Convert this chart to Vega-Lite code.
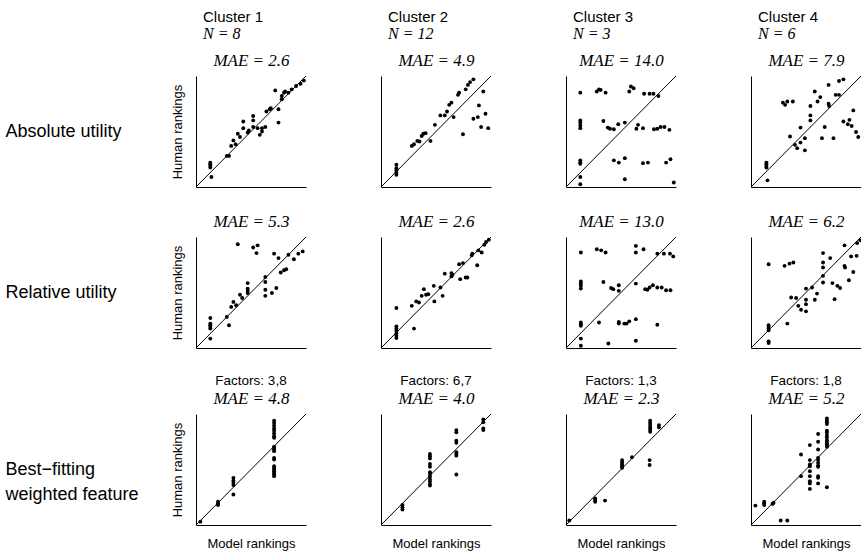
{
"$schema": "https://vega.github.io/schema/vega-lite/v6.json",
"padding": {"left": 5, "top": 10, "right": 2, "bottom": 2},
"background": "white",
"config": {
  "font": "Liberation Sans",
  "view": {"stroke": null},
  "axis": {"labels": false, "ticks": false, "grid": false, "domainColor": "black", "domainWidth": 1, "titleFont": "Liberation Sans", "titleFontWeight": "normal", "titleColor": "black", "titleFontSize": 13},
  "axisTop": {"domain": false, "titleFont": "Liberation Serif", "titleFontStyle": "italic", "titleFontSize": 17, "titlePadding": 7},
  "title": {"font": "Liberation Sans", "fontWeight": "normal", "fontSize": 15, "color": "black", "subtitleFont": "Liberation Serif", "subtitleFontStyle": "italic", "subtitleFontSize": 16, "subtitleColor": "black", "subtitlePadding": 1},
  "circle": {"size": 15, "color": "black", "opacity": 1},
  "rule": {"color": "black", "strokeWidth": 1}
},
"datasets": {"pts": [
{"p":"A1","model":13,"human":22},{"p":"A1","model":13,"human":20.5},{"p":"A1","model":13,"human":19},{"p":"A1","model":13,"human":17.5},{"p":"A1","model":14,"human":9},{"p":"A1","model":28,"human":28},{"p":"A1","model":30,"human":28},{"p":"A1","model":32,"human":37},{"p":"A1","model":34,"human":42},{"p":"A1","model":36,"human":38.5},{"p":"A1","model":38,"human":48},{"p":"A1","model":40,"human":45},{"p":"A1","model":43,"human":53},{"p":"A1","model":43,"human":59},{"p":"A1","model":47,"human":49},{"p":"A1","model":48,"human":51},{"p":"A1","model":52,"human":64},{"p":"A1","model":52,"human":60},{"p":"A1","model":52,"human":54},{"p":"A1","model":56,"human":53},{"p":"A1","model":58,"human":47},{"p":"A1","model":60,"human":50},{"p":"A1","model":60,"human":53},{"p":"A1","model":63,"human":54},{"p":"A1","model":64,"human":68},{"p":"A1","model":67,"human":70},{"p":"A1","model":68,"human":71},{"p":"A1","model":72,"human":87},{"p":"A1","model":75,"human":58},{"p":"A1","model":75,"human":70},{"p":"A1","model":78,"human":79},{"p":"A1","model":78,"human":82},{"p":"A1","model":80,"human":85},{"p":"A1","model":81,"human":86},{"p":"A1","model":84,"human":85},{"p":"A1","model":87,"human":88},{"p":"A1","model":91,"human":91},{"p":"A1","model":95,"human":93},{"p":"A1","model":98,"human":96},
{"p":"A2","model":14,"human":20},{"p":"A2","model":14,"human":17},{"p":"A2","model":14,"human":15},{"p":"A2","model":14,"human":13},{"p":"A2","model":14,"human":11},{"p":"A2","model":28,"human":37},{"p":"A2","model":30,"human":38.5},{"p":"A2","model":33,"human":41.5},{"p":"A2","model":35,"human":41},{"p":"A2","model":37,"human":46},{"p":"A2","model":38.5,"human":48},{"p":"A2","model":40.5,"human":48.5},{"p":"A2","model":45,"human":41.5},{"p":"A2","model":49,"human":56},{"p":"A2","model":54,"human":64.5},{"p":"A2","model":58,"human":64.5},{"p":"A2","model":60,"human":68},{"p":"A2","model":62,"human":74},{"p":"A2","model":64,"human":76},{"p":"A2","model":66,"human":63},{"p":"A2","model":70,"human":83},{"p":"A2","model":71,"human":85},{"p":"A2","model":74.5,"human":47.5},{"p":"A2","model":77,"human":88},{"p":"A2","model":79,"human":92},{"p":"A2","model":81,"human":94.5},{"p":"A2","model":84,"human":97},{"p":"A2","model":89,"human":73.5},{"p":"A2","model":93,"human":86},{"p":"A2","model":84,"human":61.5},{"p":"A2","model":88,"human":63},{"p":"A2","model":91,"human":54},{"p":"A2","model":95,"human":66},{"p":"A2","model":97.5,"human":53},
{"p":"A3","model":13,"human":85},{"p":"A3","model":13,"human":60},{"p":"A3","model":13,"human":58},{"p":"A3","model":13,"human":55.5},{"p":"A3","model":13,"human":53},{"p":"A3","model":13,"human":24},{"p":"A3","model":13,"human":22},{"p":"A3","model":13,"human":21},{"p":"A3","model":13,"human":9},{"p":"A3","model":13,"human":2.5},{"p":"A3","model":28,"human":86},{"p":"A3","model":30,"human":88},{"p":"A3","model":31.5,"human":87.5},{"p":"A3","model":36,"human":85},{"p":"A3","model":57.5,"human":86},{"p":"A3","model":59,"human":90.5},{"p":"A3","model":61.5,"human":89},{"p":"A3","model":71,"human":84},{"p":"A3","model":76,"human":84},{"p":"A3","model":79.5,"human":84},{"p":"A3","model":84,"human":82},{"p":"A3","model":34,"human":59.5},{"p":"A3","model":38,"human":53.5},{"p":"A3","model":40,"human":52.5},{"p":"A3","model":43.5,"human":52},{"p":"A3","model":47.5,"human":56.5},{"p":"A3","model":53.5,"human":58},{"p":"A3","model":64,"human":52.5},{"p":"A3","model":65.5,"human":56},{"p":"A3","model":70,"human":53},{"p":"A3","model":80,"human":52},{"p":"A3","model":83,"human":52.5},{"p":"A3","model":86,"human":54},{"p":"A3","model":89.5,"human":54},{"p":"A3","model":94,"human":51.5},{"p":"A3","model":43.5,"human":24},{"p":"A3","model":48,"human":22},{"p":"A3","model":53.5,"human":26},{"p":"A3","model":70,"human":21.5},{"p":"A3","model":74.5,"human":22},{"p":"A3","model":91,"human":22},{"p":"A3","model":95,"human":25},{"p":"A3","model":53.5,"human":7},{"p":"A3","model":98,"human":4},
{"p":"A4","model":14,"human":22},{"p":"A4","model":14,"human":20.5},{"p":"A4","model":14,"human":19},{"p":"A4","model":14,"human":17.5},{"p":"A4","model":15,"human":6},{"p":"A4","model":29,"human":76},{"p":"A4","model":31,"human":74},{"p":"A4","model":33,"human":77},{"p":"A4","model":38,"human":77},{"p":"A4","model":35.5,"human":45.5},{"p":"A4","model":40,"human":38},{"p":"A4","model":42,"human":35},{"p":"A4","model":45,"human":40},{"p":"A4","model":45,"human":53.5},{"p":"A4","model":49,"human":44},{"p":"A4","model":49,"human":33},{"p":"A4","model":54,"human":73},{"p":"A4","model":54,"human":64.5},{"p":"A4","model":54,"human":60},{"p":"A4","model":58,"human":86},{"p":"A4","model":60.5,"human":77},{"p":"A4","model":63,"human":81},{"p":"A4","model":67,"human":54},{"p":"A4","model":64.5,"human":44},{"p":"A4","model":70.5,"human":92},{"p":"A4","model":70.5,"human":75},{"p":"A4","model":71,"human":73},{"p":"A4","model":75,"human":44},{"p":"A4","model":77,"human":83},{"p":"A4","model":80,"human":83},{"p":"A4","model":80,"human":95.5},{"p":"A4","model":84,"human":97},{"p":"A4","model":93,"human":69},{"p":"A4","model":89.5,"human":60.5},{"p":"A4","model":84,"human":59},{"p":"A4","model":88,"human":56.5},{"p":"A4","model":91.5,"human":55},{"p":"A4","model":95.5,"human":49.5},{"p":"A4","model":97.5,"human":45},
{"p":"R1","model":13,"human":27},{"p":"R1","model":13,"human":22},{"p":"R1","model":13,"human":20.5},{"p":"R1","model":13,"human":19},{"p":"R1","model":13,"human":17.5},{"p":"R1","model":13,"human":8.5},{"p":"R1","model":28,"human":28},{"p":"R1","model":30,"human":20.5},{"p":"R1","model":32,"human":37},{"p":"R1","model":34,"human":41.5},{"p":"R1","model":36.5,"human":38.5},{"p":"R1","model":40,"human":48},{"p":"R1","model":42,"human":45},{"p":"R1","model":47,"human":58.5},{"p":"R1","model":47,"human":53.5},{"p":"R1","model":47,"human":51.5},{"p":"R1","model":47,"human":49.5},{"p":"R1","model":38,"human":93.5},{"p":"R1","model":52,"human":90.5},{"p":"R1","model":55,"human":85.5},{"p":"R1","model":56,"human":92.5},{"p":"R1","model":63,"human":64},{"p":"R1","model":63,"human":59.5},{"p":"R1","model":63,"human":52.5},{"p":"R1","model":63,"human":47},{"p":"R1","model":69,"human":49.5},{"p":"R1","model":73,"human":54},{"p":"R1","model":71,"human":85},{"p":"R1","model":75,"human":81},{"p":"R1","model":77,"human":68},{"p":"R1","model":80,"human":70},{"p":"R1","model":82,"human":71},{"p":"R1","model":84,"human":84},{"p":"R1","model":89,"human":80},{"p":"R1","model":93,"human":85},{"p":"R1","model":97,"human":87},
{"p":"R2","model":14,"human":36},{"p":"R2","model":14,"human":19.5},{"p":"R2","model":14,"human":17.5},{"p":"R2","model":14,"human":15.5},{"p":"R2","model":14,"human":13},{"p":"R2","model":14,"human":11},{"p":"R2","model":14,"human":9},{"p":"R2","model":30,"human":17.5},{"p":"R2","model":28,"human":38},{"p":"R2","model":32,"human":42},{"p":"R2","model":34.5,"human":41},{"p":"R2","model":37,"human":47},{"p":"R2","model":39,"human":53},{"p":"R2","model":41,"human":48},{"p":"R2","model":43,"human":48.5},{"p":"R2","model":48,"human":56},{"p":"R2","model":48.5,"human":42},{"p":"R2","model":54,"human":54.5},{"p":"R2","model":56,"human":47},{"p":"R2","model":58,"human":67},{"p":"R2","model":64,"human":64.5},{"p":"R2","model":64,"human":67.5},{"p":"R2","model":65,"human":66},{"p":"R2","model":71,"human":75.5},{"p":"R2","model":72,"human":62},{"p":"R2","model":74.5,"human":76.5},{"p":"R2","model":77,"human":63.5},{"p":"R2","model":78.5,"human":63.5},{"p":"R2","model":82.5,"human":83.5},{"p":"R2","model":83,"human":85},{"p":"R2","model":87.5,"human":74.5},{"p":"R2","model":88.5,"human":88},{"p":"R2","model":91.5,"human":86},{"p":"R2","model":94,"human":93},{"p":"R2","model":95.5,"human":95.5},{"p":"R2","model":98,"human":97.5},
{"p":"R3","model":13.5,"human":86},{"p":"R3","model":13.5,"human":60},{"p":"R3","model":13.5,"human":58},{"p":"R3","model":13.5,"human":56},{"p":"R3","model":13.5,"human":53.5},{"p":"R3","model":13.5,"human":23},{"p":"R3","model":13.5,"human":21.5},{"p":"R3","model":13.5,"human":20},{"p":"R3","model":13.5,"human":8.5},{"p":"R3","model":13.5,"human":2},{"p":"R3","model":28,"human":89},{"p":"R3","model":32,"human":88},{"p":"R3","model":36,"human":86},{"p":"R3","model":63.5,"human":92},{"p":"R3","model":63.5,"human":86},{"p":"R3","model":70.5,"human":89},{"p":"R3","model":83,"human":85},{"p":"R3","model":89,"human":85},{"p":"R3","model":94.5,"human":85},{"p":"R3","model":97.5,"human":82.5},{"p":"R3","model":34,"human":59.5},{"p":"R3","model":41,"human":54},{"p":"R3","model":43,"human":53},{"p":"R3","model":48,"human":56.5},{"p":"R3","model":48,"human":51.5},{"p":"R3","model":63.5,"human":58},{"p":"R3","model":72,"human":53},{"p":"R3","model":74,"human":52.5},{"p":"R3","model":76,"human":54.5},{"p":"R3","model":79,"human":56.5},{"p":"R3","model":83,"human":54.5},{"p":"R3","model":87,"human":54.5},{"p":"R3","model":91,"human":52},{"p":"R3","model":95,"human":52},{"p":"R3","model":30,"human":23},{"p":"R3","model":48,"human":23.5},{"p":"R3","model":48,"human":22},{"p":"R3","model":53,"human":22},{"p":"R3","model":55,"human":22},{"p":"R3","model":57.5,"human":24},{"p":"R3","model":63.5,"human":26},{"p":"R3","model":83,"human":21},{"p":"R3","model":38.5,"human":4},{"p":"R3","model":63.5,"human":6.5},
{"p":"R4","model":16,"human":20.5},{"p":"R4","model":16,"human":19},{"p":"R4","model":16,"human":17.5},{"p":"R4","model":16,"human":16},{"p":"R4","model":16,"human":6},{"p":"R4","model":16,"human":4.5},{"p":"R4","model":16,"human":75.5},{"p":"R4","model":30.5,"human":74},{"p":"R4","model":35,"human":76},{"p":"R4","model":38.5,"human":77},{"p":"R4","model":33,"human":22},{"p":"R4","model":36.5,"human":45.5},{"p":"R4","model":41,"human":45},{"p":"R4","model":43,"human":38},{"p":"R4","model":45.5,"human":34.5},{"p":"R4","model":50,"human":33},{"p":"R4","model":50,"human":39.5},{"p":"R4","model":50,"human":43.5},{"p":"R4","model":50,"human":53.5},{"p":"R4","model":55.5,"human":54.5},{"p":"R4","model":58,"human":43.5},{"p":"R4","model":60,"human":49},{"p":"R4","model":65.5,"human":85.5},{"p":"R4","model":65.5,"human":77},{"p":"R4","model":65.5,"human":72.5},{"p":"R4","model":65.5,"human":65},{"p":"R4","model":65.5,"human":59},{"p":"R4","model":72,"human":81},{"p":"R4","model":74,"human":58.5},{"p":"R4","model":76,"human":44},{"p":"R4","model":78.5,"human":56},{"p":"R4","model":81,"human":54},{"p":"R4","model":85,"human":92.5},{"p":"R4","model":85,"human":74},{"p":"R4","model":85.5,"human":72.5},{"p":"R4","model":89,"human":61},{"p":"R4","model":91,"human":82.5},{"p":"R4","model":93,"human":68.5},{"p":"R4","model":96,"human":83},{"p":"R4","model":96.5,"human":94.5},{"p":"R4","model":99.5,"human":97},
{"p":"B1","model":4,"human":3},{"p":"B1","model":20,"human":21},{"p":"B1","model":20,"human":19.5},{"p":"B1","model":20,"human":18},{"p":"B1","model":34,"human":42.5},{"p":"B1","model":34,"human":40},{"p":"B1","model":34,"human":38},{"p":"B1","model":34,"human":36},{"p":"B1","model":34,"human":27.5},{"p":"B1","model":71,"human":94},{"p":"B1","model":71,"human":92},{"p":"B1","model":71,"human":89.5},{"p":"B1","model":71,"human":87},{"p":"B1","model":71,"human":85},{"p":"B1","model":71,"human":82.5},{"p":"B1","model":71,"human":80},{"p":"B1","model":71,"human":78.5},{"p":"B1","model":71,"human":70.5},{"p":"B1","model":71,"human":69.5},{"p":"B1","model":71,"human":68},{"p":"B1","model":71,"human":66.5},{"p":"B1","model":71,"human":60.5},{"p":"B1","model":71,"human":59},{"p":"B1","model":71,"human":53},{"p":"B1","model":71,"human":51.5},{"p":"B1","model":71,"human":50},{"p":"B1","model":71,"human":48.5},{"p":"B1","model":71,"human":47},{"p":"B1","model":71,"human":45.5},{"p":"B1","model":71,"human":44},
{"p":"B2","model":19.5,"human":18},{"p":"B2","model":19.5,"human":16},{"p":"B2","model":19.5,"human":14},{"p":"B2","model":44.5,"human":64},{"p":"B2","model":44.5,"human":62},{"p":"B2","model":44.5,"human":60},{"p":"B2","model":44.5,"human":55},{"p":"B2","model":44.5,"human":52.5},{"p":"B2","model":44.5,"human":47.5},{"p":"B2","model":44.5,"human":46.5},{"p":"B2","model":44.5,"human":44},{"p":"B2","model":44.5,"human":41.5},{"p":"B2","model":44.5,"human":39.5},{"p":"B2","model":44.5,"human":37},{"p":"B2","model":44.5,"human":35.5},{"p":"B2","model":68.5,"human":85.5},{"p":"B2","model":68.5,"human":83.5},{"p":"B2","model":68.5,"human":76},{"p":"B2","model":68.5,"human":74},{"p":"B2","model":68.5,"human":65.5},{"p":"B2","model":68.5,"human":64},{"p":"B2","model":68.5,"human":62.5},{"p":"B2","model":68.5,"human":45.5},{"p":"B2","model":93,"human":95},{"p":"B2","model":93,"human":92.5},{"p":"B2","model":93,"human":87},{"p":"B2","model":93,"human":85.5},
{"p":"B3","model":3,"human":4},{"p":"B3","model":26.5,"human":24},{"p":"B3","model":26.5,"human":22.5},{"p":"B3","model":26.5,"human":21},{"p":"B3","model":35.5,"human":22},{"p":"B3","model":51,"human":58.5},{"p":"B3","model":51,"human":56.5},{"p":"B3","model":51,"human":54.5},{"p":"B3","model":51,"human":53},{"p":"B3","model":51,"human":51.5},{"p":"B3","model":60,"human":61},{"p":"B3","model":76,"human":58.5},{"p":"B3","model":76,"human":54},{"p":"B3","model":76.5,"human":94},{"p":"B3","model":76.5,"human":92},{"p":"B3","model":76.5,"human":90},{"p":"B3","model":76.5,"human":88},{"p":"B3","model":76.5,"human":86},{"p":"B3","model":76.5,"human":84},{"p":"B3","model":84.5,"human":90},{"p":"B3","model":84.5,"human":88},
{"p":"B4","model":4,"human":17.5},{"p":"B4","model":12,"human":21},{"p":"B4","model":12,"human":19.5},{"p":"B4","model":12,"human":18},{"p":"B4","model":19.5,"human":19},{"p":"B4","model":20.5,"human":20},{"p":"B4","model":27,"human":4},{"p":"B4","model":33,"human":4},{"p":"B4","model":45.5,"human":63.5},{"p":"B4","model":45.5,"human":44},{"p":"B4","model":53.5,"human":72},{"p":"B4","model":53.5,"human":58.5},{"p":"B4","model":53.5,"human":54.5},{"p":"B4","model":53.5,"human":53},{"p":"B4","model":53.5,"human":48.5},{"p":"B4","model":53.5,"human":44},{"p":"B4","model":53.5,"human":39.5},{"p":"B4","model":53.5,"human":37.5},{"p":"B4","model":53.5,"human":32.5},{"p":"B4","model":61,"human":82},{"p":"B4","model":61,"human":75},{"p":"B4","model":61,"human":68},{"p":"B4","model":61,"human":60.5},{"p":"B4","model":61,"human":58.5},{"p":"B4","model":61,"human":56},{"p":"B4","model":61,"human":53.5},{"p":"B4","model":61,"human":52.5},{"p":"B4","model":61,"human":44},{"p":"B4","model":61,"human":42.5},{"p":"B4","model":61,"human":37.5},{"p":"B4","model":69,"human":96},{"p":"B4","model":69,"human":94},{"p":"B4","model":69,"human":92.5},{"p":"B4","model":69,"human":91},{"p":"B4","model":69,"human":85},{"p":"B4","model":69,"human":83.5},{"p":"B4","model":69,"human":81},{"p":"B4","model":69,"human":79},{"p":"B4","model":69,"human":76.5},{"p":"B4","model":69,"human":75},{"p":"B4","model":69,"human":73.5},{"p":"B4","model":69,"human":72.5},{"p":"B4","model":69,"human":70.5},{"p":"B4","model":69,"human":34}
]},
"spacing": 24,
"vconcat": [
{"spacing": 73, "hconcat": [
 {"width":110,"height":111,"title":{"text":"Cluster 1","subtitle":"N = 8","anchor":"start","frame":"group","dx":7,"offset":9},
  "layer":[
   {"data":{"name":"pts"},"transform":[{"filter":"datum.p == 'A1'"}],"mark":"circle",
    "encoding":{"x":{"field":"model","type":"quantitative","scale":{"domain":[0,100],"nice":false,"zero":false},"axis":{"orient":"bottom","title":null}},
                "y":{"field":"human","type":"quantitative","scale":{"domain":[0,100],"nice":false,"zero":false},"axis":{"orient":"left","title":"Human rankings","titlePadding":12}}}},
   {"data":{"values":[{}]},"mark":"rule",
    "encoding":{"x":{"datum":0,"type":"quantitative","axis":{"orient":"top","title":"MAE = 2.6"}},
                "y":{"datum":0,"type":"quantitative","axis":{"orient":"left","domain":false,"title":"Absolute utility","titleAngle":0,"titleAlign":"left","titleBaseline":"middle","titleX":-191,"titleY":55,"titleFontSize":18}},
                "x2":{"datum":100},"y2":{"datum":100}}}
  ],
  "resolve":{"axis":{"x":"independent","y":"independent"}}},
 {"width":110,"height":111,"title":{"text":"Cluster 2","subtitle":"N = 12","anchor":"start","frame":"group","dx":7,"offset":9},
  "layer":[
   {"data":{"name":"pts"},"transform":[{"filter":"datum.p == 'A2'"}],"mark":"circle",
    "encoding":{"x":{"field":"model","type":"quantitative","scale":{"domain":[0,100],"nice":false,"zero":false},"axis":{"orient":"bottom","title":null}},
                "y":{"field":"human","type":"quantitative","scale":{"domain":[0,100],"nice":false,"zero":false},"axis":{"orient":"left","title":null}}}},
   {"data":{"values":[{}]},"mark":"rule",
    "encoding":{"x":{"datum":0,"type":"quantitative","axis":{"orient":"top","title":"MAE = 4.9"}},
                "y":{"datum":0,"type":"quantitative","axis":null},
                "x2":{"datum":100},"y2":{"datum":100}}}
  ],
  "resolve":{"axis":{"x":"independent","y":"independent"}}},
 {"width":110,"height":111,"title":{"text":"Cluster 3","subtitle":"N = 3","anchor":"start","frame":"group","dx":7,"offset":9},
  "layer":[
   {"data":{"name":"pts"},"transform":[{"filter":"datum.p == 'A3'"}],"mark":"circle",
    "encoding":{"x":{"field":"model","type":"quantitative","scale":{"domain":[0,100],"nice":false,"zero":false},"axis":{"orient":"bottom","title":null}},
                "y":{"field":"human","type":"quantitative","scale":{"domain":[0,100],"nice":false,"zero":false},"axis":{"orient":"left","title":null}}}},
   {"data":{"values":[{}]},"mark":"rule",
    "encoding":{"x":{"datum":0,"type":"quantitative","axis":{"orient":"top","title":"MAE = 14.0"}},
                "y":{"datum":0,"type":"quantitative","axis":null},
                "x2":{"datum":100},"y2":{"datum":100}}}
  ],
  "resolve":{"axis":{"x":"independent","y":"independent"}}},
 {"width":110,"height":111,"title":{"text":"Cluster 4","subtitle":"N = 6","anchor":"start","frame":"group","dx":7,"offset":9},
  "layer":[
   {"data":{"name":"pts"},"transform":[{"filter":"datum.p == 'A4'"}],"mark":"circle",
    "encoding":{"x":{"field":"model","type":"quantitative","scale":{"domain":[0,100],"nice":false,"zero":false},"axis":{"orient":"bottom","title":null}},
                "y":{"field":"human","type":"quantitative","scale":{"domain":[0,100],"nice":false,"zero":false},"axis":{"orient":"left","title":null}}}},
   {"data":{"values":[{}]},"mark":"rule",
    "encoding":{"x":{"datum":0,"type":"quantitative","axis":{"orient":"top","title":"MAE = 7.9"}},
                "y":{"datum":0,"type":"quantitative","axis":null},
                "x2":{"datum":100},"y2":{"datum":100}}}
  ],
  "resolve":{"axis":{"x":"independent","y":"independent"}}}
]},
{"spacing": 73, "hconcat": [
 {"width":110,"height":111,
  "layer":[
   {"data":{"name":"pts"},"transform":[{"filter":"datum.p == 'R1'"}],"mark":"circle",
    "encoding":{"x":{"field":"model","type":"quantitative","scale":{"domain":[0,100],"nice":false,"zero":false},"axis":{"orient":"bottom","title":null}},
                "y":{"field":"human","type":"quantitative","scale":{"domain":[0,100],"nice":false,"zero":false},"axis":{"orient":"left","title":"Human rankings","titlePadding":12}}}},
   {"data":{"values":[{}]},"mark":"rule",
    "encoding":{"x":{"datum":0,"type":"quantitative","axis":{"orient":"top","title":"MAE = 5.3"}},
                "y":{"datum":0,"type":"quantitative","axis":{"orient":"left","domain":false,"title":"Relative utility","titleAngle":0,"titleAlign":"left","titleBaseline":"middle","titleX":-191,"titleY":55,"titleFontSize":18}},
                "x2":{"datum":100},"y2":{"datum":100}}}
  ],
  "resolve":{"axis":{"x":"independent","y":"independent"}}},
 {"width":110,"height":111,
  "layer":[
   {"data":{"name":"pts"},"transform":[{"filter":"datum.p == 'R2'"}],"mark":"circle",
    "encoding":{"x":{"field":"model","type":"quantitative","scale":{"domain":[0,100],"nice":false,"zero":false},"axis":{"orient":"bottom","title":null}},
                "y":{"field":"human","type":"quantitative","scale":{"domain":[0,100],"nice":false,"zero":false},"axis":{"orient":"left","title":null}}}},
   {"data":{"values":[{}]},"mark":"rule",
    "encoding":{"x":{"datum":0,"type":"quantitative","axis":{"orient":"top","title":"MAE = 2.6"}},
                "y":{"datum":0,"type":"quantitative","axis":null},
                "x2":{"datum":100},"y2":{"datum":100}}}
  ],
  "resolve":{"axis":{"x":"independent","y":"independent"}}},
 {"width":110,"height":111,
  "layer":[
   {"data":{"name":"pts"},"transform":[{"filter":"datum.p == 'R3'"}],"mark":"circle",
    "encoding":{"x":{"field":"model","type":"quantitative","scale":{"domain":[0,100],"nice":false,"zero":false},"axis":{"orient":"bottom","title":null}},
                "y":{"field":"human","type":"quantitative","scale":{"domain":[0,100],"nice":false,"zero":false},"axis":{"orient":"left","title":null}}}},
   {"data":{"values":[{}]},"mark":"rule",
    "encoding":{"x":{"datum":0,"type":"quantitative","axis":{"orient":"top","title":"MAE = 13.0"}},
                "y":{"datum":0,"type":"quantitative","axis":null},
                "x2":{"datum":100},"y2":{"datum":100}}}
  ],
  "resolve":{"axis":{"x":"independent","y":"independent"}}},
 {"width":110,"height":111,
  "layer":[
   {"data":{"name":"pts"},"transform":[{"filter":"datum.p == 'R4'"}],"mark":"circle",
    "encoding":{"x":{"field":"model","type":"quantitative","scale":{"domain":[0,100],"nice":false,"zero":false},"axis":{"orient":"bottom","title":null}},
                "y":{"field":"human","type":"quantitative","scale":{"domain":[0,100],"nice":false,"zero":false},"axis":{"orient":"left","title":null}}}},
   {"data":{"values":[{}]},"mark":"rule",
    "encoding":{"x":{"datum":0,"type":"quantitative","axis":{"orient":"top","title":"MAE = 6.2"}},
                "y":{"datum":0,"type":"quantitative","axis":null},
                "x2":{"datum":100},"y2":{"datum":100}}}
  ],
  "resolve":{"axis":{"x":"independent","y":"independent"}}}
]},
{"spacing": 73, "hconcat": [
 {"width":110,"height":111,"title":{"text":"Factors: 3,8","fontSize":13.5,"anchor":"middle","frame":"group","offset":2},
  "layer":[
   {"data":{"name":"pts"},"transform":[{"filter":"datum.p == 'B1'"}],"mark":"circle",
    "encoding":{"x":{"field":"model","type":"quantitative","scale":{"domain":[0,100],"nice":false,"zero":false},"axis":{"orient":"bottom","title":"Model rankings","titlePadding":12}},
                "y":{"field":"human","type":"quantitative","scale":{"domain":[0,100],"nice":false,"zero":false},"axis":{"orient":"left","title":"Human rankings","titlePadding":12}}}},
   {"data":{"values":[{}]},"mark":"rule",
    "encoding":{"x":{"datum":0,"type":"quantitative","axis":{"orient":"top","title":"MAE = 4.8"}},
                "y":{"datum":0,"type":"quantitative","axis":{"orient":"left","domain":false,"title":["Best−fitting","weighted feature"],"titleAngle":0,"titleAlign":"left","titleBaseline":"middle","titleX":-191,"titleY":55,"titleFontSize":18,"titleLineHeight":25}},
                "x2":{"datum":100},"y2":{"datum":100}}}
  ],
  "resolve":{"axis":{"x":"independent","y":"independent"}}},
 {"width":110,"height":111,"title":{"text":"Factors: 6,7","fontSize":13.5,"anchor":"middle","frame":"group","offset":2},
  "layer":[
   {"data":{"name":"pts"},"transform":[{"filter":"datum.p == 'B2'"}],"mark":"circle",
    "encoding":{"x":{"field":"model","type":"quantitative","scale":{"domain":[0,100],"nice":false,"zero":false},"axis":{"orient":"bottom","title":"Model rankings","titlePadding":12}},
                "y":{"field":"human","type":"quantitative","scale":{"domain":[0,100],"nice":false,"zero":false},"axis":{"orient":"left","title":null}}}},
   {"data":{"values":[{}]},"mark":"rule",
    "encoding":{"x":{"datum":0,"type":"quantitative","axis":{"orient":"top","title":"MAE = 4.0"}},
                "y":{"datum":0,"type":"quantitative","axis":null},
                "x2":{"datum":100},"y2":{"datum":100}}}
  ],
  "resolve":{"axis":{"x":"independent","y":"independent"}}},
 {"width":110,"height":111,"title":{"text":"Factors: 1,3","fontSize":13.5,"anchor":"middle","frame":"group","offset":2},
  "layer":[
   {"data":{"name":"pts"},"transform":[{"filter":"datum.p == 'B3'"}],"mark":"circle",
    "encoding":{"x":{"field":"model","type":"quantitative","scale":{"domain":[0,100],"nice":false,"zero":false},"axis":{"orient":"bottom","title":"Model rankings","titlePadding":12}},
                "y":{"field":"human","type":"quantitative","scale":{"domain":[0,100],"nice":false,"zero":false},"axis":{"orient":"left","title":null}}}},
   {"data":{"values":[{}]},"mark":"rule",
    "encoding":{"x":{"datum":0,"type":"quantitative","axis":{"orient":"top","title":"MAE = 2.3"}},
                "y":{"datum":0,"type":"quantitative","axis":null},
                "x2":{"datum":100},"y2":{"datum":100}}}
  ],
  "resolve":{"axis":{"x":"independent","y":"independent"}}},
 {"width":110,"height":111,"title":{"text":"Factors: 1,8","fontSize":13.5,"anchor":"middle","frame":"group","offset":2},
  "layer":[
   {"data":{"name":"pts"},"transform":[{"filter":"datum.p == 'B4'"}],"mark":"circle",
    "encoding":{"x":{"field":"model","type":"quantitative","scale":{"domain":[0,100],"nice":false,"zero":false},"axis":{"orient":"bottom","title":"Model rankings","titlePadding":12}},
                "y":{"field":"human","type":"quantitative","scale":{"domain":[0,100],"nice":false,"zero":false},"axis":{"orient":"left","title":null}}}},
   {"data":{"values":[{}]},"mark":"rule",
    "encoding":{"x":{"datum":0,"type":"quantitative","axis":{"orient":"top","title":"MAE = 5.2"}},
                "y":{"datum":0,"type":"quantitative","axis":null},
                "x2":{"datum":100},"y2":{"datum":100}}}
  ],
  "resolve":{"axis":{"x":"independent","y":"independent"}}}
]}
]
}
